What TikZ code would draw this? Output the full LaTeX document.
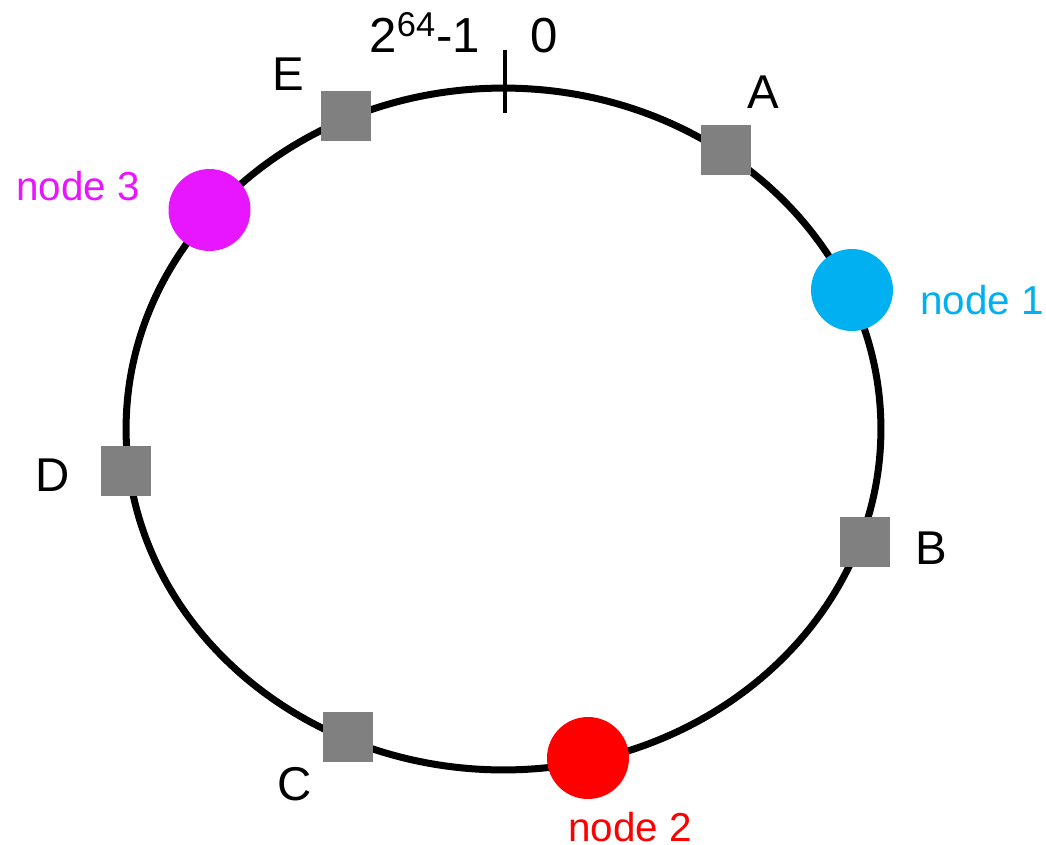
\documentclass[tikz,border=0pt]{standalone}
\usepackage{fontspec}
\setmainfont{Liberation Sans}
\definecolor{keygrey}{HTML}{808080}
\definecolor{blue1}{HTML}{00B0F0}
\definecolor{red2}{HTML}{FF0000}
\definecolor{magenta3}{HTML}{E815FF}
\tikzset{
  key/.style={fill=keygrey,minimum size=1cm,inner sep=0pt},
  server/.style={circle,minimum size=1.64cm,inner sep=0pt},
  keyname/.style={font=\fontsize{27}{32}\selectfont},
  servername/.style={font=\fontsize{23}{28}\selectfont,inner sep=0pt}
}
\begin{document}
\begin{tikzpicture}[x=0.02cm,y=-0.02cm,line join=round]
  \useasboundingbox (0,0) rectangle (1046,845);
  % the hash ring
  \node[coordinate] (ring) at (503.5,429) {};
  \draw[line width=0.14cm] (ring) ellipse [x radius=7.55cm, y radius=6.82cm];
  \coordinate (tick0) at (505,50);
  \coordinate (tick1) at (505,113);
  \draw[line width=0.08cm] (tick0) -- (tick1);
  \node[keyname,font=\fontsize{28}{32}\selectfont,anchor=base east] (max) at (486,52) {2\textsuperscript{64}-1};
  \node[keyname,font=\fontsize{28}{32}\selectfont,anchor=base west] (zero) at (524,52) {0};
  % keys
  \node[key] (A) at (726,150) {};
  \node[key] (B) at (865,542) {};
  \node[key] (C) at (348,737) {};
  \node[key] (D) at (126,471) {};
  \node[key] (E) at (346,116) {};
  \node[keyname] (labA) at (763,92) {A};
  \node[keyname] (labB) at (931,548) {B};
  \node[keyname] (labC) at (295,784) {C};
  \node[keyname] (labD) at (53,475) {D};
  \node[keyname] (labE) at (288,74) {E};
  % servers
  \node[server,fill=blue1] (n1) at (852,290) {};
  \node[server,fill=red2] (n2) at (588,758) {};
  \node[server,fill=magenta3] (n3) at (209.5,210) {};
  \node[servername,text=blue1] (lab1) at (982,300) {node 1};
  \node[servername,text=red2] (lab2) at (630,827) {node 2};
  \node[servername,text=magenta3] (lab3) at (78,186) {node 3};
\end{tikzpicture}
\end{document}
